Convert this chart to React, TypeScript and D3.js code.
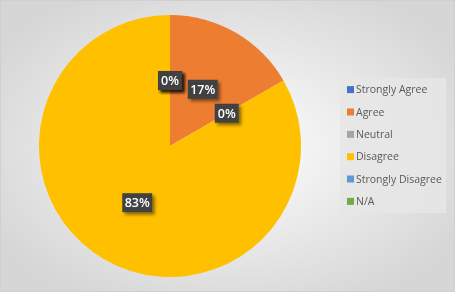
import React from "react";
import * as d3 from "d3";

const categories = ["Strongly Agree", "Agree", "Neutral", "Disagree", "Strongly Disagree", "N/A"];
const counts = [0, 1, 0, 5, 0, 0];
const colors = ["#4472C4", "#ED7D31", "#A5A5A5", "#FFC000", "#5B9BD5", "#70AD47"];

const W = 455;
const H = 292;
const cx = 170;
const cy = 146;
const R = 131;

export default function App() {
  const total = d3.sum(counts);
  const pie = d3.pie<number>().value((d) => d).sort(null);
  const arcs = pie(counts);
  const arc = d3.arc<d3.PieArcDatum<number>>().innerRadius(0).outerRadius(R);
  const fmt = d3.format(".0%");

  const legendX = 340;
  const legendY = 78;
  const legendW = 106;
  const legendH = 135;
  const rowY = d3.scaleBand<string>().domain(categories).range([legendY + 0, legendY + legendH]).paddingOuter(0.02);

  return (
    <div style={{ position: "fixed", left: 0, top: 0, width: W, height: H }}>
      <svg width={W} height={H} style={{ display: "block" }}>
        <defs>
          <radialGradient id="bg" cx="50%" cy="50%" r="60%">
            <stop offset="0%" stopColor="#ffffff" />
            <stop offset="100%" stopColor="#d6d6d6" />
          </radialGradient>
          <pattern id="dots" width="3" height="3" patternUnits="userSpaceOnUse">
            <rect width="3" height="3" fill="#404040" />
            <rect x="1" y="1" width="1" height="1" fill="#4c4c4c" />
          </pattern>
          <filter id="sh" x="-30%" y="-30%" width="180%" height="180%">
            <feDropShadow dx="2.5" dy="2.5" stdDeviation="1.5" floodColor="#000" floodOpacity="0.45" />
          </filter>
        </defs>
        <rect x={0} y={0} width={W} height={H} fill="url(#bg)" />
        <rect x={0.5} y={0.5} width={W - 1} height={H - 1} fill="none" stroke="#d0d0d0" />
        <g transform={`translate(${cx},${cy})`}>
          {arcs.map((a, i) =>
            a.value > 0 ? <path key={i} d={arc(a) || ""} fill={colors[i]} /> : null
          )}
          {arcs.map((a, i) => {
            const [x, y] = arc.centroid(a);
            const label = fmt(counts[i] / total);
            const bw = label.length === 2 ? 24 : 30;
            const bh = 19;
            return (
              <g key={"l" + i} transform={`translate(${x},${y})`}>
                <rect x={-bw / 2} y={-bh / 2} width={bw} height={bh} fill="url(#dots)" filter="url(#sh)" />
                <text
                  x={0}
                  y={0}
                  dy="0.36em"
                  textAnchor="middle"
                  fill="#ffffff"
                  fontFamily="'Open Sans', 'DejaVu Sans', sans-serif"
                  fontSize={12.5}
                  fontWeight={600}
                >
                  {label}
                </text>
              </g>
            );
          })}
        </g>
        <rect x={legendX} y={legendY} width={legendW} height={legendH} fill="#e6e6e6" opacity={0.85} />
        {categories.map((c, i) => {
          const yc = (rowY(c) || 0) + rowY.bandwidth() / 2;
          return (
            <g key={c}>
              <rect x={347} y={yc - 3.5} width={7} height={7} fill={colors[i]} />
              <text
                x={356}
                y={yc}
                dy="0.35em"
                fill="#595959"
                fontFamily="'Open Sans', 'DejaVu Sans', sans-serif"
                fontSize={10.5}
              >
                {c}
              </text>
            </g>
          );
        })}
      </svg>
    </div>
  );
}
